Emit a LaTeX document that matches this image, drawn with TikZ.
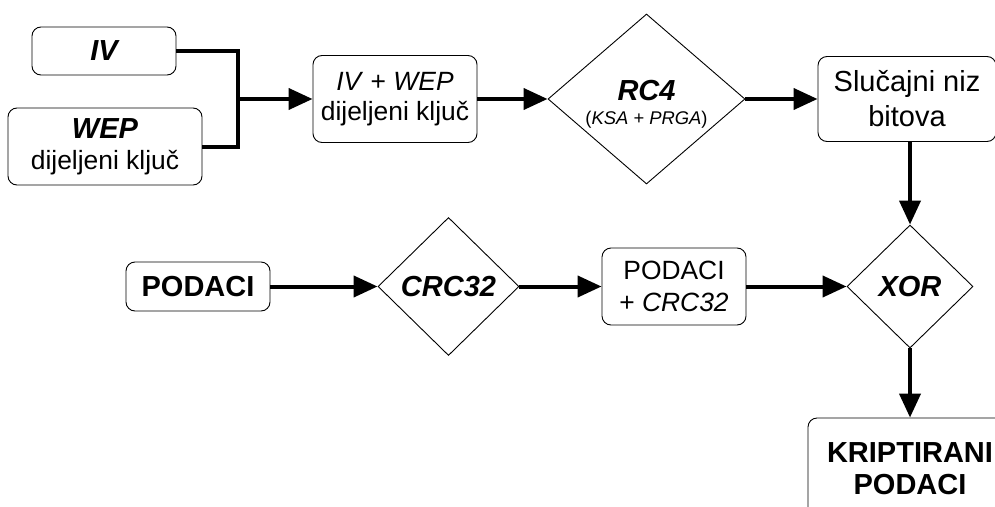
\documentclass[tikz,border=0pt]{standalone}
\usepackage{fontspec}
\setmainfont{Liberation Sans}
\usetikzlibrary{arrows.meta,shapes.geometric}
\newcommand\bolit[1]{{\fontsize{29}{32}\selectfont\bfseries\itshape #1}}
\begin{document}
\begin{tikzpicture}[x=1pt,y=-1pt,
  box/.style={draw, line width=0.9pt, rounded corners=9pt, inner sep=0pt, align=center, font=\fontsize{26.4}{31}\selectfont},
  diam/.style={draw, diamond, line width=0.9pt, inner sep=0pt},
  flow/.style={line width=4pt, -{Triangle[length=24pt,width=21pt]}},
  wire/.style={line width=4pt, line join=miter},
  txt/.style={inner sep=0pt, align=center}
]
\useasboundingbox (0,0) rectangle (995,506);
\clip (0,0) rectangle (995,506);

% nodes
\node[box, minimum width=144pt, minimum height=48pt] (iv) at (104,51) {\bolit{IV}};
\node[box, minimum width=194pt, minimum height=77pt] (wep) at (105,146.5) {\bolit{WEP}\\dijeljeni ključ};
\node[box, minimum width=164pt, minimum height=87pt, font=\fontsize{26.4}{30}\selectfont] (ivwep) at (395,99) {\textit{IV} + \textit{WEP}\\dijeljeni ključ};
\node[diam, minimum width=197pt, minimum height=170pt] (rc4) at (646.5,99) {};
\node[txt, anchor=base] (rc4t) at (646.5,100.5) {\bolit{RC4}};
\node[txt, anchor=base, font=\fontsize{18.4}{20}\selectfont] (rc4s) at (646.5,124.6) {(\textit{KSA + PRGA})};
\node[box, minimum width=178pt, minimum height=85pt, font=\fontsize{29}{35}\selectfont] (rand) at (907,99) {Slučajni niz\\bitova};

\node[box, minimum width=144pt, minimum height=49pt, font=\fontsize{29}{32}\selectfont\bfseries] (pod) at (198,286.5) {PODACI};
\node[diam, minimum width=141pt, minimum height=138pt] (crc) at (448.5,286.5) {};
\node[txt] (crct) at (448.5,286.5) {\bolit{CRC32}};
\node[box, minimum width=144pt, minimum height=77pt, font=\fontsize{26.4}{32}\selectfont] (pc) at (674,286.5) {PODACI\\+ \textit{CRC32}};
\node[diam, minimum width=126pt, minimum height=123pt] (xor) at (910,286.5) {};
\node[txt] (xort) at (910,286.5) {\bolit{XOR}};
\node[box, minimum width=204pt, minimum height=102pt, font=\fontsize{29}{32}\selectfont\bfseries] (krip) at (910,469) {KRIPTIRANI\\PODACI};

% connectors
\coordinate (j) at (238,99);
\draw[wire] (iv.east) -| (j);
\draw[wire] (wep.east) -| (j);
\draw[flow] (j) -- (ivwep.west);
\draw[flow] (ivwep.east) -- (rc4.west);
\draw[flow] (rc4.east) -- (rand.west);
\draw[flow] (rand.south -| xor.north) -- (xor.north);
\draw[flow] (pod.east) -- (crc.west);
\draw[flow] (crc.east) -- (pc.west);
\draw[flow] (pc.east) -- (xor.west);
\draw[flow] (xor.south) -- (krip.north);
\end{tikzpicture}
\end{document}
